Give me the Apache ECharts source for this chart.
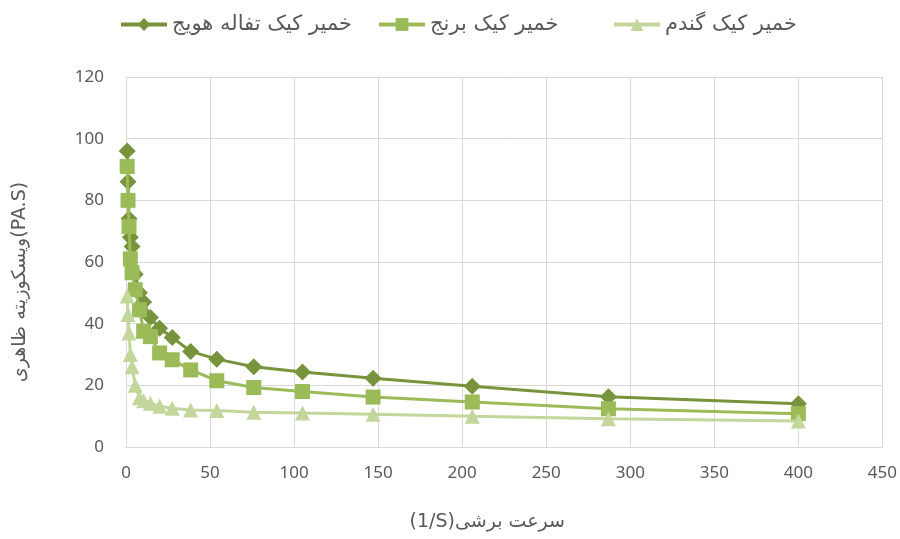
<!DOCTYPE html>
<html><head><meta charset="utf-8">
<script src="https://cdn.jsdelivr.net/npm/echarts@6/dist/echarts.min.js"></script>
<style>html,body{margin:0;padding:0;background:#fff}#c{width:900px;height:539px}</style>
</head><body><div id="c"></div>
<script>
const shearRate = [0.7, 1.2, 1.8, 2.6, 3.6, 5.5, 8, 10.5, 14.5, 20, 27.5, 38.5, 54, 76, 105, 147, 206, 287, 400];
const carrot = [96, 86, 74, 68, 65, 56, 50, 47, 42, 38.5, 35.5, 31, 28.5, 26, 24.3, 22.3, 19.7, 16.3, 14];
const rice   = [91, 80, 71.5, 61, 56.5, 51, 44.5, 37.5, 35.8, 30.5, 28.3, 25, 21.5, 19.3, 18, 16.2, 14.6, 12.4, 10.8];
const wheat  = [49, 43, 37, 30, 26, 20, 16, 15, 14.2, 13.2, 12.6, 12, 11.8, 11.3, 11, 10.6, 10, 9.2, 8.4];
const seriesNames = ['خمیر کیک تفاله هویج', 'خمیر کیک برنج', 'خمیر کیک گندم'];
const xTitle = '(1/S)سرعت برشی';
const yTitle = 'ویسکوزیته ظاهری(PA.S)';

const pairs = a => shearRate.map((x, i) => [x, a[i]]);
const font = "'Noto Sans', 'DejaVu Sans', sans-serif";
const arFont = "'DejaVu Sans', sans-serif";
const legendLeft = [114, 372, 607];
const legends = seriesNames.map((n, i) => ({
  top: 9, left: legendLeft[i], itemWidth: 46, itemHeight: 16,
  lineStyle: { width: 4 },
  textStyle: { fontSize: 21, color: '#595959', fontFamily: arFont },
  data: [n]
}));
const chart = echarts.init(document.getElementById('c'));
chart.setOption({
  animation: false,
  textStyle: { fontFamily: font },
  legend: legends,
  grid: { left: 126, right: 17, top: 77, bottom: 92 },
  xAxis: {
    type: 'value', min: 0, max: 450, interval: 50,
    name: xTitle, nameLocation: 'middle', nameGap: 66,
    nameTextStyle: { fontSize: 19, color: '#595959', fontFamily: arFont, padding: [0, 34, 0, 0] },
    axisLine: { show: true, lineStyle: { color: '#d9d9d9', width: 1 } },
    axisTick: { show: false },
    axisLabel: { fontSize: 17, color: '#595959', margin: 18 },
    splitLine: { show: true, lineStyle: { color: '#d9d9d9', width: 1 } }
  },
  yAxis: {
    type: 'value', min: 0, max: 120, interval: 20,
    name: yTitle, nameLocation: 'middle', nameGap: 96, nameRotate: 90,
    nameTextStyle: { fontSize: 19, color: '#595959', fontFamily: arFont, padding: [0, 40, 0, 0] },
    axisLine: { show: true, lineStyle: { color: '#d9d9d9', width: 1 } },
    axisTick: { show: false },
    axisLabel: { fontSize: 17, color: '#595959', margin: 22 },
    splitLine: { show: true, lineStyle: { color: '#d9d9d9', width: 1 } }
  },
  series: [
    { name: seriesNames[0], type: 'line', data: pairs(carrot), symbol: 'diamond', symbolSize: 17,
      lineStyle: { width: 3, color: '#77933C' }, itemStyle: { color: '#77933C' }, z: 3 },
    { name: seriesNames[1], type: 'line', data: pairs(rice), symbol: 'rect', symbolSize: 15,
      lineStyle: { width: 3, color: '#9BBB59' }, itemStyle: { color: '#9BBB59' }, z: 4 },
    { name: seriesNames[2], type: 'line', data: pairs(wheat), symbol: 'triangle', symbolSize: 15,
      lineStyle: { width: 3, color: '#C3D69B' }, itemStyle: { color: '#C3D69B' }, z: 5 }
  ]
});
</script></body></html>
